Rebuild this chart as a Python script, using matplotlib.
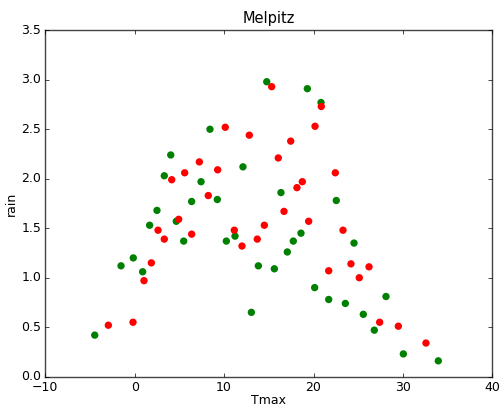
import matplotlib
matplotlib.use('Agg')
import matplotlib.pyplot as plt

# Tmax / rain pairs
green_tmax = [-4.47, -1.53, -0.16, 0.89, 1.67, 2.49, 3.31, 4.03, 4.65, 5.48,
              6.37, 7.42, 8.42, 9.24, 10.25, 11.22, 12.11, 13.05, 13.83, 14.77,
              15.62, 16.36, 17.07, 17.74, 18.6, 19.31, 20.13, 20.84, 21.7, 22.55,
              23.56, 24.53, 25.57, 26.8, 28.11, 30.05, 33.96]
green_rain = [0.42, 1.12, 1.20, 1.06, 1.53, 1.68, 2.03, 2.24, 1.57, 1.37,
              1.77, 1.97, 2.50, 1.79, 1.37, 1.42, 2.12, 0.65, 1.12, 2.98,
              1.09, 1.86, 1.26, 1.37, 1.45, 2.91, 0.90, 2.77, 0.78, 1.78,
              0.74, 1.35, 0.63, 0.47, 0.81, 0.23, 0.16]

red_tmax = [-2.95, -0.19, 1.04, 1.86, 2.61, 3.31, 4.14, 4.92, 5.59, 6.37,
            7.23, 8.23, 9.28, 10.13, 11.14, 12.0, 12.82, 13.71, 14.5, 15.32,
            16.06, 16.7, 17.45, 18.15, 18.75, 19.46, 20.17, 20.87, 21.7, 22.44,
            23.3, 24.19, 25.12, 26.21, 27.4, 29.49, 32.58]
red_rain = [0.52, 0.55, 0.97, 1.15, 1.48, 1.39, 1.99, 1.59, 2.06, 1.44,
            2.17, 1.83, 2.09, 2.52, 1.48, 1.32, 2.44, 1.39, 1.53, 2.93,
            2.21, 1.67, 2.38, 1.91, 1.97, 1.57, 2.53, 2.73, 1.07, 2.06,
            1.48, 1.14, 1.00, 1.11, 0.55, 0.51, 0.34]

plt.style.use('classic')
plt.rcParams['font.size'] = 9
plt.rcParams['xtick.major.size'] = 3
plt.rcParams['ytick.major.size'] = 3
plt.rcParams['xtick.major.pad'] = 3
plt.rcParams['ytick.major.pad'] = 3
plt.rcParams['axes.edgecolor'] = '#444444'

fig = plt.figure(figsize=(5, 4.09), dpi=100, facecolor='white')
ax = fig.add_axes([0.0906, 0.079, 0.894, 0.847])

ax.scatter(green_tmax, green_rain, s=28, color='green', edgecolors='none')
ax.scatter(red_tmax, red_rain, s=28, color='red', edgecolors='none')

ax.set_xlim(-10, 40)
ax.set_ylim(0, 3.5)
ax.set_xlabel('Tmax', labelpad=0)
ax.set_ylabel('rain', labelpad=2)
ax.set_title('Melpitz', fontsize=10.5, pad=5)

fig.savefig('out.png', dpi=100, facecolor='white')
